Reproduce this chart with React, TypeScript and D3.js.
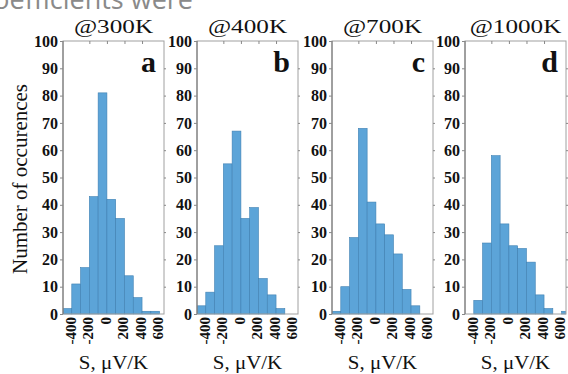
import { useEffect, useRef } from "react"
import * as d3 from "d3"

// Histogram counts, bins of 100 µV/K starting at -500
const binStart = -500
const binWidth = 100
const counts300 = [2, 11, 17, 43, 81, 42, 35, 14, 6, 1, 1]
const counts400 = [3, 8, 25, 55, 67, 35, 39, 13, 7, 2]
const counts700 = [1, 10, 28, 68, 41, 33, 29, 22, 9, 3]
const counts1000 = [0, 5, 26, 58, 33, 25, 24, 19, 7, 2, 0, 1]

const titles = ["@300K", "@400K", "@700K", "@1000K"]
const letters = ["a", "b", "c", "d"]
const xTicks = [-400, -200, 0, 200, 400, 600]
const yTicks = [0, 10, 20, 30, 40, 50, 60, 70, 80, 90, 100]
const xLabel = "S, \u03bcV/K"
const yLabel = "Number of occurences"
const topCaption = "coefficients were"

export default function App() {
  const ref = useRef<SVGSVGElement>(null)

  useEffect(() => {
    if (!ref.current) return
    const svg = d3.select(ref.current)
    svg.selectAll("*").remove()

    const top = 41
    const bottom = 314
    const pw = 101
    const lefts = [63, 197, 332, 465]
    const serif = "'Liberation Serif', 'DejaVu Serif', serif"
    const series = [counts300, counts400, counts700, counts1000]

    const y = d3.scaleLinear().domain([0, 100]).range([bottom, top])

    // cut-off caption from the page above
    svg
      .append("text")
      .attr("x", 193)
      .attr("y", 9)
      .attr("text-anchor", "end")
      .attr("font-family", "'Open Sans', sans-serif")
      .attr("font-size", 27)
      .attr("fill", "#8a8a8a")
      .text(topCaption)

    // y label
    svg
      .append("text")
      .attr("transform", `translate(20,179) rotate(-90) scale(1.05,1)`)
      .attr("text-anchor", "middle")
      .attr("dominant-baseline", "central")
      .attr("font-family", serif)
      .attr("font-size", 20)
      .attr("fill", "#111")
      .text(yLabel)

    const defs = svg.append("defs")

    series.forEach((counts, i) => {
      const x0 = lefts[i]
      const x = d3.scaleLinear().domain([-500, 650]).range([x0, x0 + pw])
      const g = svg.append("g")

      defs
        .append("clipPath")
        .attr("id", `clip${i}`)
        .append("rect")
        .attr("x", x0)
        .attr("y", top)
        .attr("width", pw)
        .attr("height", bottom - top + 1)

      const bins = counts.map((c, k) => ({ lo: binStart + k * binWidth, c }))

      g.append("g")
        .attr("clip-path", `url(#clip${i})`)
        .selectAll("rect")
        .data(bins)
        .join("rect")
        .attr("x", (d) => x(d.lo))
        .attr("width", (d) => x(d.lo + binWidth) - x(d.lo))
        .attr("y", (d) => y(d.c))
        .attr("height", (d) => y(0) - y(d.c))
        .attr("fill", "#5ca4d8")
        .attr("stroke", (d) => (d.c === 0 ? "#e6e08a" : "#3f80b2"))
        .attr("stroke-width", 0.6)

      // frame
      g.append("rect")
        .attr("x", x0)
        .attr("y", top)
        .attr("width", pw)
        .attr("height", bottom - top)
        .attr("fill", "none")
        .attr("stroke", "#a0a0a0")
        .attr("stroke-width", 1)
      g.append("line")
        .attr("x1", x0)
        .attr("x2", x0)
        .attr("y1", top)
        .attr("y2", bottom)
        .attr("stroke", "#707070")

      // left axis
      g.append("g")
        .attr("transform", `translate(${x0},0)`)
        .call(d3.axisLeft(y).tickValues(yTicks).tickSize(3).tickPadding(2))
        .call((ax) => ax.select(".domain").remove())
        .call((ax) => ax.selectAll(".tick line").attr("stroke", "#888"))
        .call((ax) =>
          ax
            .selectAll(".tick text")
            .attr("fill", "#111")
            .attr("font-family", serif)
            .attr("font-weight", "bold")
            .attr("font-size", 16)
        )

      // right ticks
      g.append("g")
        .attr("transform", `translate(${x0 + pw},0)`)
        .call(d3.axisRight(y).tickValues(yTicks.slice(1, -1)).tickSize(2).tickFormat(() => ""))
        .call((ax) => ax.select(".domain").remove())
        .call((ax) => ax.selectAll(".tick line").attr("stroke", "#888"))

      // top ticks
      g.append("g")
        .attr("transform", `translate(0,${top})`)
        .call(d3.axisBottom(x).tickValues(xTicks.slice(1, -1)).tickSize(3).tickFormat(() => ""))
        .call((ax) => ax.select(".domain").remove())
        .call((ax) => ax.selectAll(".tick line").attr("stroke", "#888"))

      // bottom axis labels
      g.append("g")
        .attr("transform", `translate(0,${bottom})`)
        .call(d3.axisBottom(x).tickValues(xTicks).tickSize(0).tickFormat((d) => String(d)))
        .call((ax) => ax.select(".domain").remove())
        .call((ax) =>
          ax
            .selectAll(".tick text")
            .attr("transform", "rotate(-90)")
            .attr("text-anchor", "end")
            .attr("x", -3)
            .attr("y", 0)
            .attr("dy", "0.22em")
            .attr("fill", "#111")
            .attr("font-family", serif)
            .attr("font-weight", "bold")
            .attr("font-size", 15)
        )

      const cx = x0 + pw / 2

      // title
      g.append("text")
        .attr("transform", `translate(${cx},33) scale(1.4,1)`)
        .attr("text-anchor", "middle")
        .attr("font-family", serif)
        .attr("font-size", 18)
        .attr("fill", "#111")
        .text(titles[i])

      // panel letter
      g.append("text")
        .attr("x", x0 + pw - 8)
        .attr("y", 72)
        .attr("text-anchor", "end")
        .attr("font-family", serif)
        .attr("font-weight", "bold")
        .attr("font-size", 30)
        .attr("fill", "#111")
        .text(letters[i])

      // x label
      g.append("text")
        .attr("transform", `translate(${cx},369) scale(1.1,1)`)
        .attr("text-anchor", "middle")
        .attr("font-family", serif)
        .attr("font-size", 19)
        .attr("fill", "#111")
        .text(xLabel)
    })
  }, [])

  return (
    <svg
      ref={ref}
      width={568}
      height={374}
      style={{ position: "absolute", left: 0, top: 0, background: "#fff" }}
    />
  )
}
